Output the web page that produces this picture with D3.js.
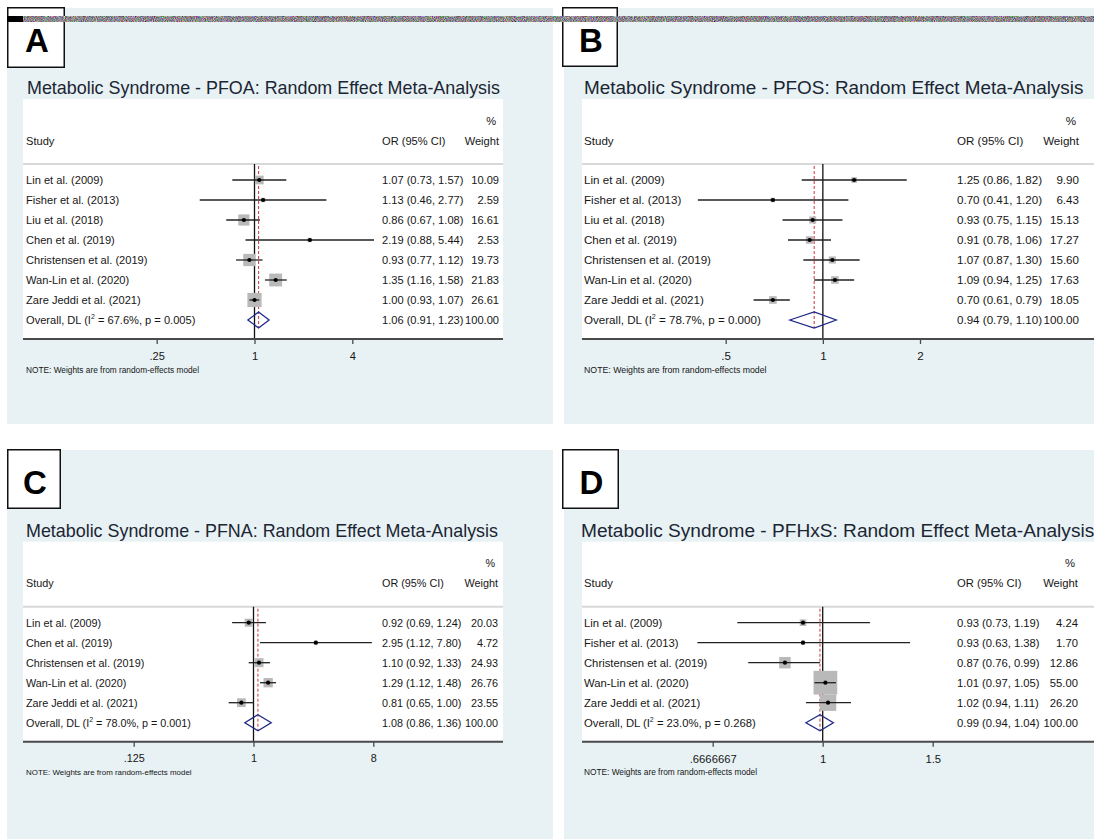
<!DOCTYPE html>
<html>
<head>
<meta charset="utf-8">
<script src="https://cdn.jsdelivr.net/npm/d3@7"></script>
<style>
    body { margin: 0; background: #fff; }
    svg text { font-family: "Liberation Sans", Arial, sans-serif; }
</style>
</head>
<body>
<div id="chart"></div>
<script>
/* * * * * * * * * * * * * *
*      FOREST PLOTS (4)     *
* * * * * * * * * * * * * */

// --- PFOA (A)
const pfoaStudies = ["Lin et al. (2009)", "Fisher et al. (2013)", "Liu et al. (2018)", "Chen et al. (2019)",
    "Christensen et al. (2019)", "Wan-Lin et al. (2020)", "Zare Jeddi et al. (2021)"];
const pfoaOR     = [1.07, 1.13, 0.86, 2.19, 0.93, 1.35, 1.00];
const pfoaLow    = [0.73, 0.46, 0.67, 0.88, 0.77, 1.16, 0.93];
const pfoaHigh   = [1.57, 2.77, 1.08, 5.44, 1.12, 1.58, 1.07];
const pfoaWeight = [10.09, 2.59, 16.61, 2.53, 19.73, 21.83, 26.61];
const pfoaOverall = [1.06, 0.91, 1.23];
const pfoaI2 = 67.6, pfoaP = 0.005;
const pfoaTicks = [0.25, 1, 4];
const pfoaTickLabels = [".25", "1", "4"];

// --- PFOS (B)
const pfosStudies = ["Lin et al. (2009)", "Fisher et al. (2013)", "Liu et al. (2018)", "Chen et al. (2019)",
    "Christensen et al. (2019)", "Wan-Lin et al. (2020)", "Zare Jeddi et al. (2021)"];
const pfosOR     = [1.25, 0.70, 0.93, 0.91, 1.07, 1.09, 0.70];
const pfosLow    = [0.86, 0.41, 0.75, 0.78, 0.87, 0.94, 0.61];
const pfosHigh   = [1.82, 1.20, 1.15, 1.06, 1.30, 1.25, 0.79];
const pfosWeight = [9.90, 6.43, 15.13, 17.27, 15.60, 17.63, 18.05];
const pfosOverall = [0.94, 0.79, 1.10];
const pfosI2 = 78.7, pfosP = 0.000;
const pfosTicks = [0.5, 1, 2];
const pfosTickLabels = [".5", "1", "2"];

// --- PFNA (C)
const pfnaStudies = ["Lin et al. (2009)", "Chen et al. (2019)", "Christensen et al. (2019)",
    "Wan-Lin et al. (2020)", "Zare Jeddi et al. (2021)"];
const pfnaOR     = [0.92, 2.95, 1.10, 1.29, 0.81];
const pfnaLow    = [0.69, 1.12, 0.92, 1.12, 0.65];
const pfnaHigh   = [1.24, 7.80, 1.33, 1.48, 1.00];
const pfnaWeight = [20.03, 4.72, 24.93, 26.76, 23.55];
const pfnaOverall = [1.08, 0.86, 1.36];
const pfnaI2 = 78.0, pfnaP = 0.001;
const pfnaTicks = [0.125, 1, 8];
const pfnaTickLabels = [".125", "1", "8"];

// --- PFHxS (D)
const pfhxsStudies = ["Lin et al. (2009)", "Fisher et al. (2013)", "Christensen et al. (2019)",
    "Wan-Lin et al. (2020)", "Zare Jeddi et al. (2021)"];
const pfhxsOR     = [0.93, 0.93, 0.87, 1.01, 1.02];
const pfhxsLow    = [0.73, 0.63, 0.76, 0.97, 0.94];
const pfhxsHigh   = [1.19, 1.38, 0.99, 1.05, 1.11];
const pfhxsWeight = [4.24, 1.70, 12.86, 55.00, 26.20];
const pfhxsOverall = [0.99, 0.94, 1.04];
const pfhxsI2 = 23.0, pfhxsP = 0.268;
const pfhxsTicks = [0.6666667, 1, 1.5];
const pfhxsTickLabels = [".6666667", "1", "1.5"];

// Panel layout (positions only, data come from the arrays above)
const panels = [
    { letter: "A", name: "PFOA", studies: pfoaStudies, or: pfoaOR, lo: pfoaLow, hi: pfoaHigh, wt: pfoaWeight,
      overall: pfoaOverall, i2: pfoaI2, p: pfoaP, ticks: pfoaTicks, tickLabels: pfoaTickLabels,
      bg: [7, 8, 553, 424], box: [7, 7, 65, 68], top: 0, left: 23, right: 503,
      titleX: 27, titleFs: 17.9, fs: 11.1, noteFs: 8.3,
      studyX: 26, orX: 382, wtX: 499, range: [156.7, 352.3], boxK: 2.75 },
    { letter: "B", name: "PFOS", studies: pfosStudies, or: pfosOR, lo: pfosLow, hi: pfosHigh, wt: pfosWeight,
      overall: pfosOverall, i2: pfosI2, p: pfosP, ticks: pfosTicks, tickLabels: pfosTickLabels,
      bg: [564, 8, 1100, 424], box: [562, 7, 618, 67], top: 0, left: 582, right: 1100,
      titleX: 584, titleFs: 18.9, fs: 11.6, noteFs: 8.75,
      studyX: 584, orX: 957, wtX: 1079, range: [725.7, 920], boxK: 1.8 },
    { letter: "C", name: "PFNA", studies: pfnaStudies, or: pfnaOR, lo: pfnaLow, hi: pfnaHigh, wt: pfnaWeight,
      overall: pfnaOverall, i2: pfnaI2, p: pfnaP, ticks: pfnaTicks, tickLabels: pfnaTickLabels,
      bg: [7, 450, 553, 845], box: [7, 449, 61, 509], top: 442.7, left: 23, right: 503,
      titleX: 26, titleFs: 17.9, fs: 10.8, noteFs: 7.95,
      studyX: 26, orX: 382, wtX: 498, range: [133.7, 373.3], boxK: 1.8 },
    { letter: "D", name: "PFHxS", studies: pfhxsStudies, or: pfhxsOR, lo: pfhxsLow, hi: pfhxsHigh, wt: pfhxsWeight,
      overall: pfhxsOverall, i2: pfhxsI2, p: pfhxsP, ticks: pfhxsTicks, tickLabels: pfhxsTickLabels,
      bg: [564, 450, 1100, 845], box: [562, 449, 619, 509], top: 442.7, left: 582, right: 1100,
      titleX: 581, titleFs: 19.1, fs: 11.25, noteFs: 8.3,
      studyX: 584, orX: 957, wtX: 1078, range: [712.7, 932.7], boxK: 3.2 }
];

const W = 1094, H = 839;
const svg = d3.select("#chart").append("svg")
    .attr("width", W)
    .attr("height", H)
    .style("display", "block");

// noise filter for the scanned strip at the top
const defs = svg.append("defs");
const noise = defs.append("filter").attr("id", "noise")
    .attr("x", 0).attr("y", 0).attr("width", "100%").attr("height", "100%")
    .attr("color-interpolation-filters", "sRGB");
noise.append("feTurbulence").attr("type", "fractalNoise")
    .attr("baseFrequency", 0.9).attr("numOctaves", 2).attr("seed", 4);
noise.append("feColorMatrix").attr("type", "matrix")
    .attr("values", "1.3 0 0 0 -0.1  0 1.3 0 0 -0.12  0 0 1.3 0 -0.1  0 0 0 0 1");

const fmt2 = d3.format(".2f");
const textCol = "#161616";

panels.forEach(pn => drawPanel(pn));

function drawPanel(pn) {
    const g = svg.append("g");
    const t = pn.top;
    const fs = pn.fs;

    // panel background
    g.append("rect")
        .attr("x", pn.bg[0]).attr("y", pn.bg[1])
        .attr("width", pn.bg[2] - pn.bg[0]).attr("height", pn.bg[3] - pn.bg[1])
        .attr("fill", "#e8f2f4");

    // label box
    g.append("rect")
        .attr("x", pn.box[0] + 0.75).attr("y", pn.box[1] + 0.75)
        .attr("width", pn.box[2] - pn.box[0] - 1.5).attr("height", pn.box[3] - pn.box[1] - 1.5)
        .attr("fill", "#fff").attr("stroke", "#111").attr("stroke-width", 1.5);
    g.append("text")
        .attr("x", (pn.box[0] + pn.box[2]) / 2 + 1)
        .attr("y", pn.box[1] + 45)
        .attr("text-anchor", "middle")
        .attr("font-size", 33).attr("font-weight", "bold")
        .attr("fill", "#000")
        .text(pn.letter);

    // title
    g.append("text")
        .attr("x", pn.titleX).attr("y", t + 94)
        .attr("font-size", pn.titleFs).attr("fill", "#1b2533")
        .text(`Metabolic Syndrome - ${pn.name}: Random Effect Meta-Analysis`);

    // rows
    const sepY = t + 164;
    const rowY = i => sepY + 16 + i * 20;
    const n = pn.studies.length;
    const overallY = rowY(n);
    const axisY = overallY + 19;

    // white plot region
    g.append("rect")
        .attr("x", pn.left).attr("y", t + 99)
        .attr("width", pn.right - pn.left).attr("height", axisY - (t + 99))
        .attr("fill", "#fff");

    // header
    const hdr = g.append("g").attr("font-size", fs).attr("fill", textCol);
    hdr.append("text").attr("x", pn.studyX).attr("y", t + 144.5).text("Study");
    hdr.append("text").attr("x", pn.orX).attr("y", t + 144.5).text("OR (95% CI)");
    hdr.append("text").attr("x", pn.wtX).attr("y", t + 144.5).attr("text-anchor", "end").text("Weight");
    hdr.append("text").attr("x", pn.wtX - 3).attr("y", t + 124.5).attr("text-anchor", "end").text("%");

    g.append("line")
        .attr("x1", pn.left).attr("x2", pn.right)
        .attr("y1", sepY).attr("y2", sepY)
        .attr("stroke", "#d8d8d8").attr("stroke-width", 2);

    // scale
    const x = d3.scaleLog()
        .domain([pn.ticks[0], pn.ticks[pn.ticks.length - 1]])
        .range(pn.range);

    // null line at 1
    g.append("line")
        .attr("x1", x(1)).attr("x2", x(1))
        .attr("y1", sepY).attr("y2", axisY)
        .attr("stroke", "#111").attr("stroke-width", 1.3);

    // overall dashed line
    g.append("line")
        .attr("x1", x(pn.overall[0])).attr("x2", x(pn.overall[0]))
        .attr("y1", sepY + 2).attr("y2", overallY + 8)
        .attr("stroke", "#c8363b").attr("stroke-width", 1)
        .attr("stroke-dasharray", "3,2");

    const rows = pn.studies.map((s, i) => ({
        study: s, or: pn.or[i], lo: pn.lo[i], hi: pn.hi[i], wt: pn.wt[i], y: rowY(i)
    }));

    // weight boxes
    g.selectAll(".wbox").data(rows).join("rect")
        .attr("class", "wbox")
        .attr("x", d => x(d.or) - pn.boxK * Math.sqrt(d.wt) / 2)
        .attr("y", d => d.y - pn.boxK * Math.sqrt(d.wt) / 2)
        .attr("width", d => pn.boxK * Math.sqrt(d.wt))
        .attr("height", d => pn.boxK * Math.sqrt(d.wt))
        .attr("fill", "#b9b9b9");

    // CI lines
    g.selectAll(".ci").data(rows).join("line")
        .attr("class", "ci")
        .attr("x1", d => x(d.lo)).attr("x2", d => x(d.hi))
        .attr("y1", d => d.y).attr("y2", d => d.y)
        .attr("stroke", "#222").attr("stroke-width", 1.3);

    // point estimates
    g.selectAll(".pt").data(rows).join("circle")
        .attr("class", "pt")
        .attr("cx", d => x(d.or)).attr("cy", d => d.y)
        .attr("r", 2.1)
        .attr("fill", "#000");

    // overall diamond
    const ov = pn.overall;
    g.append("path")
        .attr("d", `M${x(ov[1])},${overallY} L${x(ov[0])},${overallY - 8} L${x(ov[2])},${overallY} L${x(ov[0])},${overallY + 8} Z`)
        .attr("fill", "none")
        .attr("stroke", "#1f2a86").attr("stroke-width", 1.3);

    // text columns
    const tg = g.append("g").attr("font-size", fs).attr("fill", textCol);
    tg.selectAll(".lab").data(rows).join("text")
        .attr("class", "lab")
        .attr("x", pn.studyX).attr("y", d => d.y + 4)
        .text(d => d.study);
    tg.selectAll(".orv").data(rows).join("text")
        .attr("class", "orv")
        .attr("x", pn.orX).attr("y", d => d.y + 4)
        .text(d => `${fmt2(d.or)} (${fmt2(d.lo)}, ${fmt2(d.hi)})`);
    tg.selectAll(".wtv").data(rows).join("text")
        .attr("class", "wtv")
        .attr("x", pn.wtX).attr("y", d => d.y + 4)
        .attr("text-anchor", "end")
        .text(d => fmt2(d.wt));

    // overall row
    const ot = tg.append("text").attr("x", pn.studyX).attr("y", overallY + 4);
    ot.append("tspan").text("Overall, DL (I");
    ot.append("tspan").attr("font-size", 7).attr("dy", -5).text("2");
    ot.append("tspan").attr("dy", 5).text(` = ${pn.i2.toFixed(1)}%, p = ${pn.p.toFixed(3)})`);
    tg.append("text").attr("x", pn.orX).attr("y", overallY + 4)
        .text(`${fmt2(ov[0])} (${fmt2(ov[1])}, ${fmt2(ov[2])})`);
    tg.append("text").attr("x", pn.wtX).attr("y", overallY + 4)
        .attr("text-anchor", "end").text("100.00");

    // axis
    g.append("line")
        .attr("x1", pn.left).attr("x2", pn.right)
        .attr("y1", axisY).attr("y2", axisY)
        .attr("stroke", "#4a4a4a").attr("stroke-width", 2);

    const axis = g.append("g")
        .attr("transform", `translate(0,${axisY})`)
        .call(d3.axisBottom(x)
            .tickValues(pn.ticks)
            .tickFormat((d, i) => pn.tickLabels[i])
            .tickSize(5)
            .tickPadding(8));
    axis.select(".domain").remove();
    axis.selectAll(".tick line").attr("stroke", "#4a4a4a").attr("stroke-width", 1.3);
    axis.selectAll(".tick text")
        .attr("font-family", "Liberation Sans, Arial, sans-serif")
        .attr("font-size", fs).attr("fill", textCol);

    // note
    g.append("text")
        .attr("x", pn.studyX).attr("y", axisY + 33.5)
        .attr("font-size", pn.noteFs).attr("fill", textCol)
        .text("NOTE: Weights are from random-effects model");
}

// scanned strip across the top
svg.append("rect")
    .attr("x", 23).attr("y", 16).attr("width", W - 23).attr("height", 6)
    .attr("fill", "#999")
    .attr("filter", "url(#noise)");
svg.append("rect")
    .attr("x", 7).attr("y", 16).attr("width", 16).attr("height", 6)
    .attr("fill", "#000");
</script>
</body>
</html>
